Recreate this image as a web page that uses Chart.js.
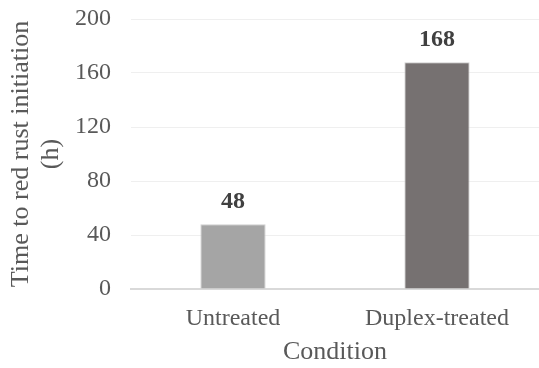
<!DOCTYPE html>
<html>
<head>
<meta charset="utf-8">
<script src="https://cdn.jsdelivr.net/npm/chart.js@4"></script>
<style>
  html, body { margin: 0; padding: 0; background: #fff; }
  #wrap { width: 539px; height: 368px; }
</style>
</head>
<body>
<div id="wrap"><canvas id="grafico"></canvas></div>
<script>
// Dados do gráfico
var condicoes = ["Untreated", "Duplex-treated"];
var tempoFerrugem = [48, 168];
var coresBarras = ["#a5a5a5", "#767171"];
var ticksY = [0, 40, 80, 120, 160, 200];

// rótulos em cima das barras
var rotulosBarras = {
  id: "rotulosBarras",
  afterDatasetsDraw: function (chart) {
    var ctx = chart.ctx;
    var meta = chart.getDatasetMeta(0);
    ctx.save();
    ctx.font = "bold 24px 'Liberation Serif'";
    ctx.fillStyle = "#404040";
    ctx.textAlign = "center";
    ctx.textBaseline = "alphabetic";
    meta.data.forEach(function (bar, i) {
      ctx.fillText(tempoFerrugem[i], bar.x, bar.y - 16);
    });
    ctx.restore();
  }
};

var ctx = document.getElementById("grafico").getContext("2d");

new Chart(ctx, {
  type: "bar",
  data: {
    labels: condicoes,
    datasets: [
      {
        data: tempoFerrugem,
        backgroundColor: coresBarras,
        borderColor: "#d0d0d0",
        borderWidth: 1,
        barPercentage: 0.64,
        categoryPercentage: 0.5,
      },
    ],
  },
  plugins: [rotulosBarras],
  options: {
    responsive: true,
    maintainAspectRatio: false,
    animation: false,
    layout: {
      padding: { top: 19, right: 0, left: 0, bottom: 0 },
    },
    plugins: {
      legend: { display: false },
      tooltip: { enabled: false },
    },
    scales: {
      x: {
        grid: { display: false, drawTicks: false },
        border: { color: "#d9d9d9", width: 2 },
        ticks: {
          padding: 15,
          color: "#595959",
          font: { family: "'Liberation Serif'", size: 24 },
        },
        title: {
          display: true,
          text: "Condition",
          color: "#595959",
          padding: { top: 0, bottom: 1 },
          font: { family: "'Liberation Serif'", size: 26, lineHeight: 1.15 },
        },
        afterFit: function (axis) { axis.height = 79; },
      },
      y: {
        min: 0,
        max: 200,
        afterBuildTicks: function (axis) {
          axis.ticks = ticksY.map(function (v) { return { value: v }; });
        },
        grid: { color: "#efefef", drawTicks: false },
        border: { display: false },
        ticks: {
          padding: 20,
          color: "#595959",
          font: { family: "'Liberation Serif'", size: 24 },
        },
        title: {
          display: true,
          text: ["Time to red rust initiation", "(h)"],
          color: "#595959",
          padding: { top: 6, bottom: 0 },
          font: { family: "'Liberation Serif'", size: 26, lineHeight: 1.15 },
        },
        afterFit: function (axis) {
          axis.width = 131;
          axis.paddingTop = 0;
          axis.paddingBottom = 0;
        },
      },
    },
  },
});
</script>
</body>
</html>
